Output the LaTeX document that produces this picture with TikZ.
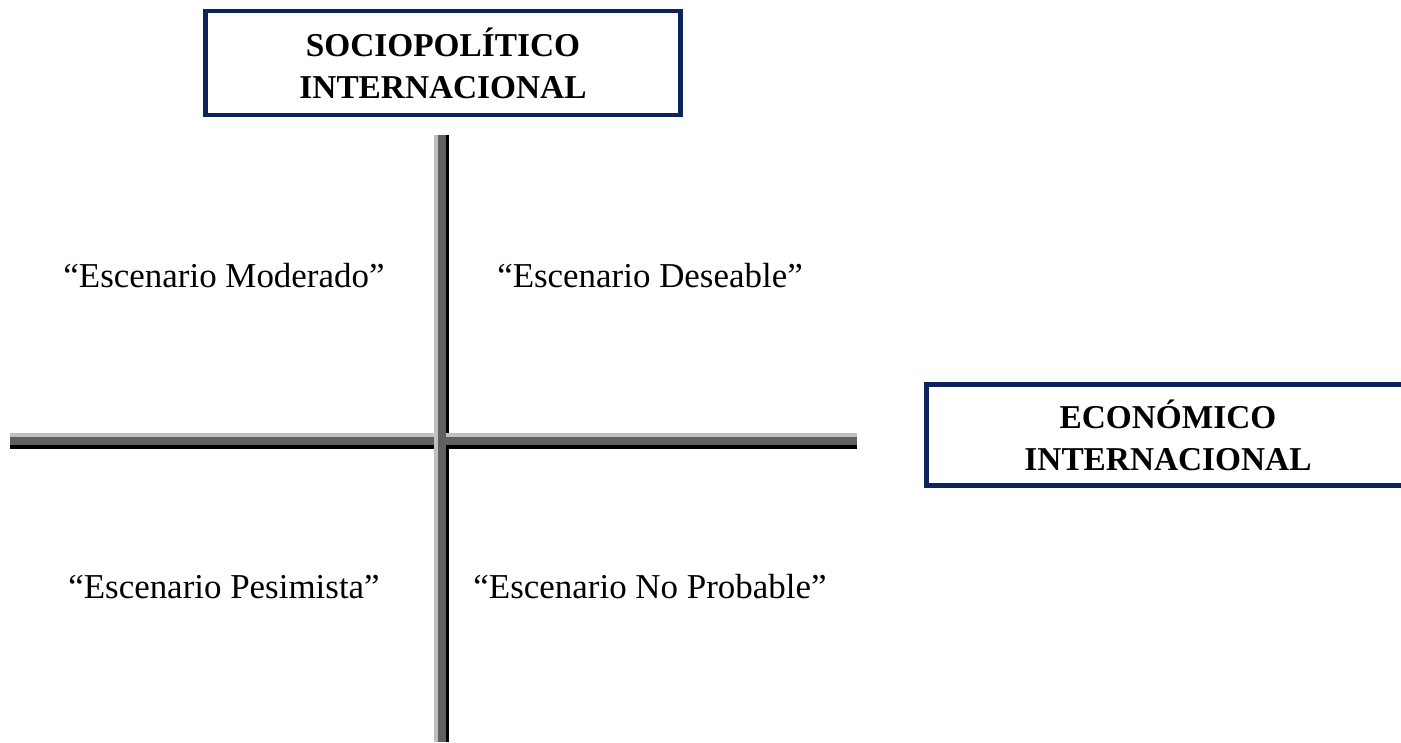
\documentclass[tikz,border=0pt]{standalone}
\usepackage{fontspec}
\setmainfont{Liberation Serif}
\definecolor{boxblue}{RGB}{14,34,92}
\definecolor{axislight}{RGB}{192,192,192}
\definecolor{axisdark}{RGB}{96,96,96}
\begin{document}
\begin{tikzpicture}[x=0.75pt, y=-0.75pt,
    factor/.style={draw=boxblue, line width=3.6pt, fill=white, align=center,
        font=\fontsize{25}{31.5}\selectfont\bfseries, inner sep=0pt},
    scenario/.style={font=\fontsize{26.2}{30}\selectfont, anchor=base}]
    \useasboundingbox[fill=white] (0,0) rectangle (1401,742);
    \clip (0,0) rectangle (1401,742);

    % horizontal axis
    \fill[axislight] (10,433) rectangle (857,437);
    \fill[axisdark]  (10,437) rectangle (857,445);
    \fill[black]     (10,445) rectangle (857,449);
    % vertical axis
    \fill[axislight] (434,135) rectangle (438,742);
    \fill[axisdark]  (438,135) rectangle (446,742);
    \fill[black]     (446,135) rectangle (449,433);
    \fill[black]     (446,449) rectangle (449,742);

    \node[factor, minimum width=356pt, minimum height=78pt] (socio) at (443,63)
        {SOCIOPOLÍTICO\\INTERNACIONAL};
    \node[factor, minimum width=362pt, minimum height=76pt] (econ) at (1168,435)
        {ECONÓMICO\\INTERNACIONAL};

    \node[scenario] (moderado) at (224,287) {“Escenario Moderado”};
    \node[scenario] (deseable) at (650,287) {“Escenario Deseable”};
    \node[scenario] (pesimista) at (224,598) {“Escenario Pesimista”};
    \node[scenario] (noprob) at (650,598) {“Escenario No Probable”};
\end{tikzpicture}
\end{document}
